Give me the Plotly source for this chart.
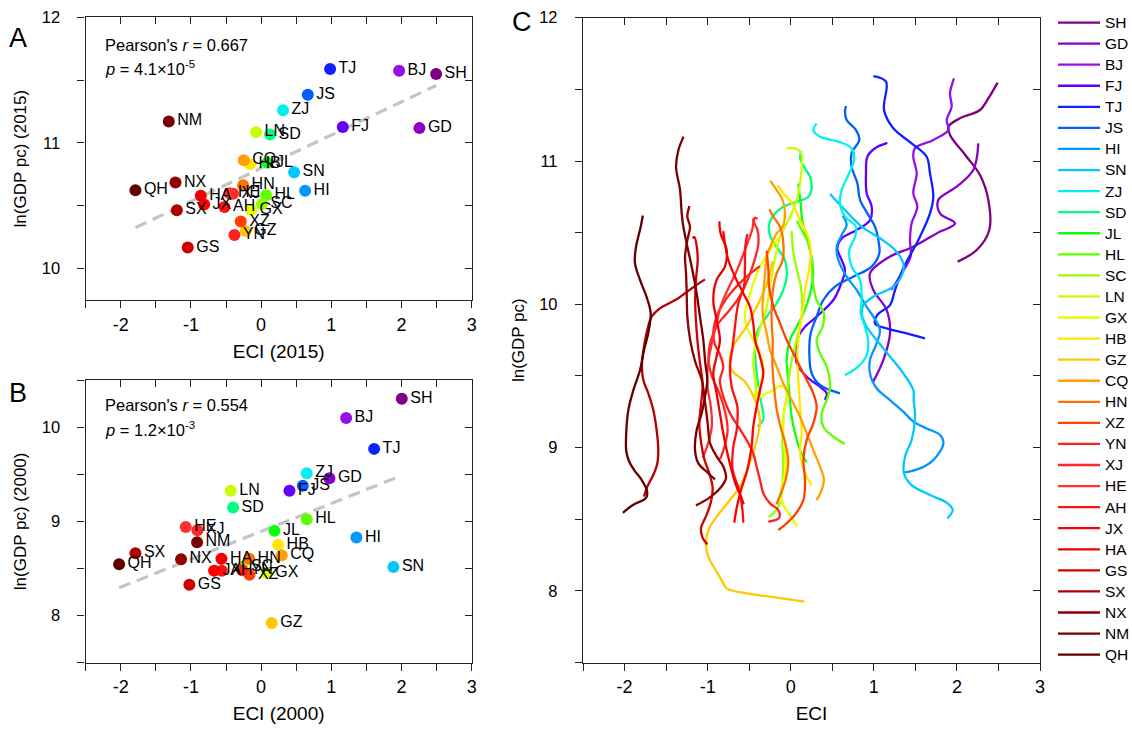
import plotly.graph_objects as go
import numpy as np

W, H = 1132, 729
FONT = "Liberation Sans, Arial, sans-serif"

PROVINCES = ["SH", "GD", "BJ", "FJ", "TJ", "JS", "HI", "SN", "ZJ", "SD", "JL", "HL", "SC", "LN", "GX",
             "HB", "GZ", "CQ", "HN", "XZ", "YN", "XJ", "HE", "AH", "JX", "HA", "GS", "SX", "NX", "NM", "QH"]
COLORS = ["#800080", "#8a00c8", "#9410e8", "#6000ff", "#1020ff", "#0060ff", "#0098ff", "#00c8ff", "#00f0f0",
          "#00ff80", "#10ff10", "#60ff00", "#98ff00", "#c8ff00", "#e8ff00", "#ffe800", "#ffc800", "#ffa000",
          "#ff7000", "#ff4000", "#ff2020", "#ff2828", "#ff3030", "#ff1010", "#ff0000", "#f00000", "#d00000",
          "#b00000", "#900000", "#780000", "#600000"]

# Panel A (2015)
ECI_2015 = [2.493, 2.255, 1.966, 1.163, 0.983, 0.665, 0.627, 0.470, 0.313, 0.128, 0.090, 0.071, 0.010, -0.071,
            -0.142, -0.157, -0.218, -0.247, -0.256, -0.290, -0.380, -0.400, -0.450, -0.522, -0.812, -0.859,
            -1.045, -1.200, -1.220, -1.315, -1.790]
LNGDP_2015 = [11.548, 11.118, 11.575, 11.126, 11.588, 11.383, 10.619, 10.767, 11.261, 11.067, 10.842, 10.584,
              10.512, 11.086, 10.467, 10.831, 10.300, 10.863, 10.664, 10.374, 10.268, 10.595, 10.600, 10.491,
              10.510, 10.579, 10.167, 10.464, 10.685, 11.171, 10.624]
# Panel B (2000)
ECI_2000 = [2.004, 0.973, 1.211, 0.404, 1.610, 0.594, 1.358, 1.885, 0.650, -0.399, 0.190, 0.650, -0.266, -0.432,
            0.081, 0.242, 0.152, 0.294, -0.171, -0.166, -0.270, -0.907, -1.073, -0.560, -0.670, -0.565, -1.022,
            -1.790, -1.140, -0.912, -2.023]
LNGDP_2000 = [10.302, 9.457, 10.096, 9.325, 9.769, 9.378, 8.828, 8.515, 9.510, 9.147, 8.899, 9.023, 8.515, 9.325,
              8.451, 8.753, 7.922, 8.639, 8.604, 8.433, 8.480, 8.906, 8.941, 8.476, 8.476, 8.604, 8.327, 8.661,
              8.597, 8.778, 8.544]

STATS_A = ["Pearson's <i>r</i> = 0.667", "<i>p</i> = 4.1×10<sup>-5</sup>"]
STATS_B = ["Pearson's <i>r</i> = 0.554", "<i>p</i> = 1.2×10<sup>-3</sup>"]

X_TICKS = [-2.5, -2, -1.5, -1, -0.5, 0, 0.5, 1, 1.5, 2, 2.5, 3]
X_TICKTEXT = ["", "-2", "", "-1", "", "0", "", "1", "", "2", "", "3"]
YA_TICKS = [10, 10.5, 11, 11.5, 12]
YA_TEXT = ["10", "", "11", "", "12"]
YB_TICKS = [7.5, 8, 8.5, 9, 9.5, 10, 10.5]
YB_TEXT = ["", "8", "", "9", "", "10", ""]
YC_TICKS = [7.5, 8, 8.5, 9, 9.5, 10, 10.5, 11, 11.5, 12]
YC_TEXT = ["", "8", "", "9", "", "10", "", "11", "", "12"]

# Panel C trajectories (ECI, ln GDP pc), 2000 -> 2015
C_SH = [(2.009, 10.298), (2.238, 10.379), (2.39, 10.519), (2.378, 10.728), (2.278, 10.902), (2.117, 11.03),
        (1.917, 11.182), (1.897, 11.24), (2.037, 11.298), (2.278, 11.356), (2.378, 11.437), (2.49, 11.547)]
C_GD = [(0.986, 9.453), (1.114, 9.611), (1.195, 9.797), (1.155, 9.96), (0.994, 10.10), (0.954, 10.216),
        (1.195, 10.333), (1.475, 10.402), (1.756, 10.495), (1.977, 10.565), (1.796, 10.635), (1.776, 10.728),
        (1.997, 10.821), (2.197, 10.937), (2.258, 11.123)]
C_BJ = [(1.21, 10.10), (1.335, 10.216), (1.443, 10.333), (1.435, 10.449), (1.455, 10.565), (1.524, 10.682),
        (1.475, 10.775), (1.516, 10.914), (1.475, 11.03), (1.496, 11.089), (1.716, 11.147), (1.897, 11.216),
        (1.877, 11.286), (1.937, 11.379), (1.917, 11.472), (1.965, 11.577)]
C_FJ = [(0.412, 9.332), (0.433, 9.379), (0.352, 9.425), (0.192, 9.495), (0.072, 9.588), (0.072, 9.681),
        (0.092, 9.774), (0.172, 9.844), (0.312, 9.914), (0.513, 10.03), (0.593, 10.123), (0.653, 10.24),
        (0.613, 10.309), (0.561, 10.391), (0.613, 10.46), (0.794, 10.519), (0.954, 10.588), (0.974, 10.682),
        (0.914, 10.775), (0.906, 10.914), (0.922, 11.03), (1.014, 11.089), (1.163, 11.126)]
C_TJ = [(1.616, 9.763), (1.395, 9.797), (1.155, 9.832), (1.014, 9.867), (1.042, 9.926), (1.195, 9.995),
        (1.255, 10.10), (1.355, 10.251), (1.556, 10.472), (1.676, 10.635), (1.716, 10.751), (1.676, 10.914),
        (1.636, 11.03), (1.455, 11.123), (1.235, 11.228), (1.123, 11.356), (1.147, 11.554), (0.994, 11.593)]
C_JS = [(0.593, 9.379), (0.352, 9.437), (0.252, 9.518), (0.224, 9.658), (0.24, 9.797), (0.312, 9.914),
        (0.392, 10.03), (0.533, 10.123), (0.753, 10.193), (0.974, 10.263), (1.066, 10.356), (1.054, 10.449),
        (1.014, 10.542), (0.922, 10.635), (0.834, 10.728), (0.802, 10.844), (0.733, 10.961), (0.733, 11.054),
        (0.825, 11.147), (0.786, 11.216), (0.673, 11.286), (0.653, 11.344), (0.665, 11.384)]
C_HI = [(1.363, 8.825), (1.556, 8.855), (1.716, 8.913), (1.837, 9.03), (1.797, 9.088), (1.636, 9.134),
        (1.476, 9.181), (1.355, 9.251), (1.195, 9.332), (1.034, 9.414), (0.954, 9.518), (0.954, 9.611),
        (1.034, 9.728), (1.074, 9.821), (0.994, 9.914), (0.914, 9.983), (0.794, 10.10), (0.673, 10.193),
        (0.573, 10.309), (0.553, 10.402), (0.613, 10.484), (0.673, 10.554), (0.625, 10.619)]
C_SN = [(1.885, 8.506), (1.949, 8.565), (1.877, 8.616), (1.676, 8.669), (1.455, 8.739), (1.363, 8.82),
        (1.375, 8.937), (1.455, 9.053), (1.496, 9.216), (1.48, 9.33), (1.475, 9.402), (1.355, 9.518),
        (1.195, 9.635), (1.034, 9.751), (0.914, 9.844), (0.854, 9.937), (0.874, 9.995), (0.994, 10.054),
        (1.235, 10.123), (1.347, 10.216), (1.355, 10.286), (1.255, 10.379), (1.074, 10.461), (0.854, 10.542),
        (0.653, 10.658), (0.473, 10.77)]
C_ZJ = [(0.653, 9.507), (0.785, 9.553), (0.906, 9.635), (0.934, 9.728), (0.894, 9.844), (0.842, 9.937),
        (0.854, 10.03), (0.834, 10.17), (0.733, 10.263), (0.705, 10.379), (0.774, 10.472), (0.785, 10.542),
        (0.653, 10.612), (0.593, 10.705), (0.613, 10.798), (0.693, 10.902), (0.762, 11.007), (0.733, 11.089),
        (0.573, 11.135), (0.352, 11.17), (0.272, 11.216), (0.312, 11.261)]
C_SD = [(-0.399, 9.147), (-0.33, 9.20), (-0.36, 9.33), (-0.41, 9.518), (-0.43, 9.681), (-0.41, 9.798),
        (-0.29, 9.914), (-0.17, 10.007), (-0.09, 10.1), (-0.049, 10.193), (-0.069, 10.309), (-0.17, 10.40),
        (-0.25, 10.48), (-0.257, 10.564), (-0.189, 10.634), (-0.089, 10.681), (0.072, 10.716), (0.212, 10.751),
        (0.252, 10.809), (0.232, 10.89), (0.172, 10.948), (0.112, 11.02), (0.128, 11.067)]
C_JL = [(0.19, 8.899), (0.112, 8.983), (0.052, 9.1), (0.011, 9.216), (-0.009, 9.332), (-0.029, 9.472),
        (-0.049, 9.611), (-0.009, 9.751), (0.072, 9.844), (0.152, 9.937), (0.212, 10.03), (0.25, 10.12),
        (0.27, 10.22), (0.25, 10.33), (0.2, 10.45), (0.14, 10.58), (0.12, 10.7), (0.09, 10.842)]
C_HL = [(0.653, 9.025), (0.513, 9.076), (0.392, 9.146), (0.372, 9.239), (0.433, 9.332), (0.473, 9.425),
        (0.433, 9.565), (0.352, 9.658), (0.312, 9.751), (0.384, 9.844), (0.4, 9.937), (0.31, 10.03),
        (0.264, 10.169), (0.252, 10.309), (0.212, 10.425), (0.132, 10.518), (0.071, 10.584)]
C_SC = [(-0.266, 8.515), (-0.18, 8.56), (-0.12, 8.63), (-0.10, 8.75), (-0.09, 8.90), (-0.10, 9.05),
        (-0.09, 9.20), (-0.05, 9.35), (-0.02, 9.50), (0.02, 9.63), (0.07, 9.75), (0.12, 9.87), (0.14, 10.0),
        (0.12, 10.13), (0.07, 10.25), (0.03, 10.37), (0.01, 10.512)]
C_LN = [(-0.432, 9.325), (-0.42, 9.42), (-0.44, 9.52), (-0.45, 9.62), (-0.41, 9.75), (-0.35, 9.867),
        (-0.289, 9.983), (-0.249, 10.123), (-0.209, 10.262), (-0.169, 10.379), (-0.129, 10.472),
        (-0.069, 10.541), (0.011, 10.634), (0.072, 10.727), (0.112, 10.844), (0.132, 10.96), (0.13, 11.05),
        (0.07, 11.085), (-0.049, 11.088)]
C_GX = [(0.081, 8.451), (0.0, 8.52), (-0.07, 8.58), (-0.12, 8.65), (-0.1, 8.74), (-0.06, 8.86), (-0.07, 8.98),
        (-0.09, 9.12), (-0.08, 9.26), (-0.05, 9.40), (-0.13, 9.43), (-0.209, 9.402), (-0.37, 9.355),
        (-0.43, 9.332), (-0.37, 9.425), (-0.33, 9.565), (-0.37, 9.658), (-0.451, 9.751), (-0.531, 9.844),
        (-0.551, 9.937), (-0.511, 10.03), (-0.451, 10.146), (-0.37, 10.263), (-0.25, 10.379), (-0.142, 10.467)]
C_HB = [(0.252, 8.739), (0.192, 8.797), (0.132, 8.89), (0.112, 8.983), (0.132, 9.1), (0.112, 9.286),
        (0.092, 9.472), (0.08, 9.658), (0.092, 9.75), (0.112, 9.85), (0.152, 9.983), (0.172, 10.1),
        (0.212, 10.216), (0.24, 10.332), (0.224, 10.448), (0.172, 10.518), (0.112, 10.587), (0.06, 10.657),
        (-0.009, 10.727), (-0.089, 10.774), (-0.157, 10.831)]
C_GZ = [(0.163, 7.925), (-0.25, 7.96), (-0.531, 7.983), (-0.771, 8.018), (-0.832, 8.076), (-0.892, 8.134),
        (-0.992, 8.239), (-1.02, 8.332), (-0.992, 8.425), (-0.892, 8.518), (-0.731, 8.635), (-0.611, 8.728),
        (-0.511, 8.867), (-0.43, 9.007), (-0.37, 9.17), (-0.39, 9.263), (-0.45, 9.36), (-0.551, 9.46),
        (-0.711, 9.542), (-0.731, 9.635), (-0.671, 9.728), (-0.531, 9.844), (-0.43, 9.96), (-0.33, 10.08),
        (-0.26, 10.19), (-0.218, 10.30)]
C_CQ = [(0.312, 8.634), (0.372, 8.704), (0.4, 8.774), (0.352, 8.867), (0.272, 8.983), (0.192, 9.1),
        (0.112, 9.216), (0.011, 9.332), (-0.089, 9.448), (-0.169, 9.565), (-0.249, 9.681), (-0.289, 9.797),
        (-0.337, 9.937), (-0.33, 10.076), (-0.309, 10.216), (-0.289, 10.332), (-0.229, 10.425),
        (-0.169, 10.495), (-0.097, 10.541), (-0.069, 10.634), (-0.097, 10.727), (-0.169, 10.797),
        (-0.247, 10.863)]
C_HN = [(-0.171, 8.604), (-0.12, 8.68), (-0.06, 8.78), (-0.03, 8.90), (-0.06, 9.02), (-0.12, 9.14),
        (-0.17, 9.27), (-0.20, 9.42), (-0.22, 9.57), (-0.217, 9.75), (-0.229, 9.867), (-0.229, 9.983),
        (-0.209, 10.123), (-0.169, 10.216), (-0.097, 10.309), (-0.089, 10.425), (-0.129, 10.541),
        (-0.209, 10.611), (-0.256, 10.664)]
C_XZ = [(-0.149, 8.425), (0.031, 8.518), (0.152, 8.634), (0.172, 8.774), (0.152, 8.913), (0.192, 9.053),
        (0.272, 9.169), (0.312, 9.286), (0.272, 9.379), (0.192, 9.472), (0.112, 9.565), (0.031, 9.658),
        (-0.049, 9.751), (-0.129, 9.867), (-0.209, 9.984), (-0.26, 10.12), (-0.27, 10.25), (-0.29, 10.374)]
C_YN = [(-0.27, 8.483), (-0.14, 8.51), (-0.15, 8.565), (-0.25, 8.611), (-0.33, 8.681), (-0.37, 8.774),
        (-0.41, 8.867), (-0.451, 8.96), (-0.531, 9.053), (-0.631, 9.146), (-0.731, 9.239), (-0.812, 9.356),
        (-0.852, 9.472), (-0.812, 9.56), (-0.852, 9.65), (-0.912, 9.72), (-0.932, 9.798), (-0.892, 9.914),
        (-0.812, 10.007), (-0.691, 10.1), (-0.531, 10.193), (-0.37, 10.267)]
C_XJ = [(-0.85, 8.92), (-0.80, 9.0), (-0.76, 9.12), (-0.79, 9.25), (-0.86, 9.38), (-0.95, 9.5), (-0.99, 9.62),
        (-0.96, 9.75), (-0.88, 9.86), (-0.75, 9.95), (-0.62, 10.05), (-0.52, 10.17), (-0.44, 10.30),
        (-0.39, 10.42), (-0.40, 10.52), (-0.44, 10.57), (-0.43, 10.605), (-0.40, 10.595)]
C_HE = [(-1.06, 8.93), (-1.0, 9.02), (-0.95, 9.15), (-0.96, 9.28), (-1.0, 9.42), (-1.0, 9.56), (-0.96, 9.70),
        (-0.90, 9.85), (-0.84, 9.99), (-0.76, 10.10), (-0.66, 10.22), (-0.57, 10.35), (-0.50, 10.46),
        (-0.46, 10.53), (-0.45, 10.60)]
C_AH = [(-0.57, 8.476), (-0.58, 8.56), (-0.62, 8.70), (-0.70, 8.85), (-0.691, 9.007), (-0.651, 9.123),
        (-0.643, 9.286), (-0.711, 9.425), (-0.731, 9.565), (-0.699, 9.705), (-0.671, 9.844), (-0.631, 10.007),
        (-0.563, 10.123), (-0.551, 10.263), (-0.547, 10.402), (-0.522, 10.491)]
C_JX = [(-0.68, 8.476), (-0.65, 8.58), (-0.6, 8.7), (-0.52, 8.85), (-0.471, 9.007), (-0.451, 9.146),
        (-0.41, 9.286), (-0.37, 9.402), (-0.33, 9.518), (-0.37, 9.635), (-0.43, 9.751), (-0.451, 9.867),
        (-0.491, 9.984), (-0.571, 10.077), (-0.671, 10.193), (-0.751, 10.309), (-0.792, 10.426), (-0.812, 10.51)]
C_HA = [(-0.565, 8.604), (-0.60, 8.66), (-0.66, 8.74), (-0.72, 8.86), (-0.771, 8.984), (-0.812, 9.1),
        (-0.852, 9.239), (-0.892, 9.379), (-0.932, 9.518), (-0.892, 9.635), (-0.852, 9.751), (-0.892, 9.891),
        (-0.932, 10.03), (-0.892, 10.17), (-0.792, 10.263), (-0.771, 10.379), (-0.844, 10.495), (-0.859, 10.579)]
C_GS = [(-1.004, 8.325), (-1.06, 8.37), (-1.08, 8.44), (-1.02, 8.52), (-0.96, 8.62), (-0.94, 8.72),
        (-0.98, 8.82), (-1.04, 8.92), (-1.08, 9.04), (-1.1, 9.17), (-1.08, 9.30), (-1.06, 9.44), (-1.09, 9.58),
        (-1.12, 9.73), (-1.14, 9.88), (-1.15, 10.03), (-1.14, 10.18), (-1.12, 10.3), (-1.13, 10.4),
        (-1.16, 10.47), (-1.18, 10.46)]
C_SX = [(-1.766, 8.658), (-1.726, 8.728), (-1.654, 8.809), (-1.606, 8.89), (-1.594, 8.984), (-1.614, 9.123),
        (-1.654, 9.263), (-1.714, 9.379), (-1.774, 9.472), (-1.79, 9.588), (-1.766, 9.704), (-1.726, 9.821),
        (-1.674, 9.914), (-1.574, 9.972), (-1.373, 10.035), (-1.173, 10.119), (-1.032, 10.174)]
C_NX = [(-1.14, 8.597), (-0.99, 8.646), (-0.85, 8.716), (-0.78, 8.786), (-0.81, 8.867), (-0.89, 8.937),
        (-0.97, 9.03), (-1.0, 9.17), (-1.03, 9.31), (-1.07, 9.47), (-1.15, 9.60), (-1.21, 9.75), (-1.244, 9.913),
        (-1.252, 10.076), (-1.26, 10.216), (-1.272, 10.332), (-1.244, 10.448), (-1.212, 10.541),
        (-1.244, 10.611), (-1.22, 10.686)]
C_NM = [(-0.912, 8.778), (-1.012, 8.832), (-1.112, 8.89), (-1.152, 8.984), (-1.132, 9.123), (-1.072, 9.239),
        (-1.032, 9.356), (-1.004, 9.472), (-1.03, 9.6), (-1.052, 9.75), (-1.092, 9.913), (-1.132, 10.076),
        (-1.192, 10.262), (-1.244, 10.402), (-1.292, 10.541), (-1.312, 10.634), (-1.332, 10.797),
        (-1.38, 10.96), (-1.352, 11.076), (-1.29, 11.17)]
C_QH = [(-2.02, 8.545), (-1.90, 8.60), (-1.74, 8.65), (-1.73, 8.70), (-1.80, 8.78), (-1.88, 8.84),
        (-1.95, 8.91), (-1.98, 8.98), (-1.98, 9.10), (-1.955, 9.26), (-1.895, 9.40), (-1.814, 9.54),
        (-1.766, 9.68), (-1.714, 9.80), (-1.686, 9.94), (-1.734, 10.05), (-1.814, 10.17), (-1.875, 10.29),
        (-1.862, 10.40), (-1.806, 10.54), (-1.78, 10.62)]

TRAJ = {p: globals()["C_" + p] for p in PROVINCES}


def fx(px):
    return px / W


def fy(py):
    return 1 - py / H


fig = go.Figure()

# Panel C trajectories (legend entries)
for p, c in zip(PROVINCES, COLORS):
    pts = TRAJ[p]
    fig.add_trace(go.Scatter(
        x=[q[0] for q in pts], y=[q[1] for q in pts], mode="lines",
        name='<span style="font-size:15.5px">' + p + '</span>',
        line=dict(color=c, width=2.3, shape="spline", smoothing=1.0),
        xaxis="x3", yaxis="y3", showlegend=True, hoverinfo="skip"))

# Regression lines and scatter points for A and B
for (ex, gy, xa, ya) in [(ECI_2015, LNGDP_2015, "x", "y"), (ECI_2000, LNGDP_2000, "x2", "y2")]:
    ex_a = np.array(ex)
    gy_a = np.array(gy)
    k, b = np.polyfit(ex_a, gy_a, 1)
    xs = np.array([ex_a.min(), ex_a.max()])
    fig.add_trace(go.Scatter(x=xs, y=k * xs + b, mode="lines",
                             line=dict(color="#c4c4c4", width=3.2, dash="12px,7px"),
                             xaxis=xa, yaxis=ya, showlegend=False, hoverinfo="skip"))
    fig.add_trace(go.Scatter(x=ex, y=gy, mode="markers+text", text=PROVINCES,
                             textposition="middle right",
                             textfont=dict(family=FONT, size=16, color="black"),
                             marker=dict(size=12, color=COLORS, line=dict(width=0)),
                             xaxis=xa, yaxis=ya, showlegend=False, cliponaxis=False))

# dummy traces for mirrored (inward) tick axes
for xa, ya in [("x4", "y4"), ("x5", "y5"), ("x6", "y6")]:
    fig.add_trace(go.Scatter(x=[None], y=[None], xaxis=xa, yaxis=ya, showlegend=False, hoverinfo="skip"))

LINE_C = "#222222"
common = dict(showline=True, linecolor=LINE_C, linewidth=1.3, ticks="outside", ticklen=7, tickwidth=1.3,
              tickcolor=LINE_C, showgrid=False, zeroline=False, automargin=False)


def xax(dom, anchor, title):
    return dict(domain=dom, anchor=anchor, range=[-2.5, 3], tickmode="array", tickvals=X_TICKS,
                ticktext=X_TICKTEXT, tickfont=dict(family=FONT, size=18, color="black"),
                ticklabelstandoff=1,
                title=dict(text=title, font=dict(family=FONT, size=19, color="black"), standoff=10), **common)


def yax(dom, anchor, rng, vals, texts, title):
    return dict(domain=dom, anchor=anchor, range=rng, tickmode="array", tickvals=vals, ticktext=texts,
                tickfont=dict(family=FONT, size=16.5, color="black"), ticklabelstandoff=14,
                title=dict(text=title, font=dict(family=FONT, size=17, color="black"), standoff=10), **common)


def mirror_x(over, anchor, rng=(-2.5, 3)):
    return dict(overlaying=over, anchor=anchor, side="top", range=list(rng), tickmode="array",
                tickvals=X_TICKS, showticklabels=False, ticks="inside", ticklen=7, tickwidth=1.3,
                tickcolor=LINE_C, showline=True, linecolor=LINE_C, linewidth=1.3, showgrid=False,
                zeroline=False, automargin=False)


def mirror_y(over, anchor, rng, vals):
    return dict(overlaying=over, anchor=anchor, side="right", range=list(rng), tickmode="array",
                tickvals=vals, showticklabels=False, ticks="inside", ticklen=7, tickwidth=1.3,
                tickcolor=LINE_C, showline=True, linecolor=LINE_C, linewidth=1.3, showgrid=False,
                zeroline=False, automargin=False)


XA_DOM = [fx(85.6), fx(471.7)]
YA_DOM = [fy(300), fy(17.3)]
YB_DOM = [fy(662.7), fy(380)]
XC_DOM = [fx(583), fx(1040)]
YC_DOM = [fy(662.6), fy(17.7)]

fig.update_layout(
    width=W, height=H, margin=dict(l=0, r=0, t=0, b=0, autoexpand=False),
    paper_bgcolor="white", plot_bgcolor="white",
    font=dict(family=FONT, color="black"),
    xaxis=xax(XA_DOM, "y", "ECI (2015)"),
    yaxis=yax(YA_DOM, "x", [9.75, 12], YA_TICKS, YA_TEXT, "ln(GDP pc) (2015)"),
    xaxis2=xax(XA_DOM, "y2", "ECI (2000)"),
    yaxis2=yax(YB_DOM, "x2", [7.5, 10.5], YB_TICKS, YB_TEXT, "ln(GDP pc) (2000)"),
    xaxis3=xax(XC_DOM, "y3", "ECI"),
    yaxis3=yax(YC_DOM, "x3", [7.5, 12], YC_TICKS, YC_TEXT, "ln(GDP pc)"),
    xaxis4=mirror_x("x", "y4"),
    yaxis4=mirror_y("y", "x4", (9.75, 12), YA_TICKS),
    xaxis5=mirror_x("x2", "y5"),
    yaxis5=mirror_y("y2", "x5", (7.5, 10.5), YB_TICKS),
    xaxis6=mirror_x("x3", "y6"),
    yaxis6=mirror_y("y3", "x6", (7.5, 12), YC_TICKS),
    legend=dict(x=fx(1053), y=fy(7), xanchor="left", yanchor="top",
                font=dict(family=FONT, size=13.9, color="black"), maxheight=725,
                itemwidth=42, tracegroupgap=0, bgcolor="rgba(0,0,0,0)", borderwidth=0),
    showlegend=True,
)

annotations = []
for i, t in enumerate(STATS_A):
    annotations.append(dict(text=t, x=fx(103), y=fy(45 + 23 * i), xref="paper", yref="paper",
                            xanchor="left", yanchor="middle", showarrow=False,
                            font=dict(family=FONT, size=16.5, color="black")))
for i, t in enumerate(STATS_B):
    annotations.append(dict(text=t, x=fx(103), y=fy(405 + 24 * i), xref="paper", yref="paper",
                            xanchor="left", yanchor="middle", showarrow=False,
                            font=dict(family=FONT, size=16.5, color="black")))
for lab, px, py in [("A", 18, 38), ("B", 18, 393), ("C", 522, 22)]:
    annotations.append(dict(text=lab, x=fx(px), y=fy(py), xref="paper", yref="paper",
                            xanchor="center", yanchor="middle", showarrow=False,
                            font=dict(family=FONT, size=27, color="black")))
fig.update_layout(annotations=annotations)

fig.write_html("out.html")
